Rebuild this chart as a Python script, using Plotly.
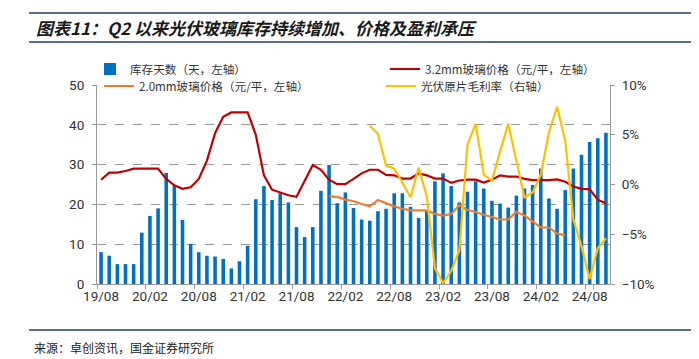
import plotly.graph_objects as go

# categories: monthly 2019/08 .. 2024/10
months = []
yy, mm = 2019, 8
while len(months) < 63:
    months.append(f"{yy % 100:02d}/{mm:02d}")
    mm += 1
    if mm > 12:
        mm = 1
        yy += 1

inventory_days = [
    8.0, 7.1, 5.0, 5.0, 5.0, 12.9, 17.1, 19.0, 27.9, 24.7,
    16.1, 10.1, 8.0, 7.1, 6.9, 6.3, 3.9, 5.7, 9.6, 21.3,
    24.6, 21.1, 22.8, 20.5, 14.3, 11.8, 14.3, 23.4, 29.9, 20.3,
    23.0, 19.1, 16.2, 15.9, 18.3, 18.9, 22.8, 22.8, 19.4, 16.6,
    18.5, 25.8, 27.8, 24.6, 20.5, 23.2, 25.8, 24.0, 20.9, 20.2,
    19.2, 22.2, 24.0, 24.9, 29.0, 21.5, 18.9, 23.6, 29.0, 32.5,
    35.7, 36.6, 38.0,
]

price_32 = [
    26.2, 28.0, 28.0, 28.4, 29.0, 29.0, 29.0, 29.0, 26.4, 24.8,
    23.9, 24.3, 26.4, 31.0, 37.9, 42.0, 43.1, 43.1, 43.1, 37.5,
    27.3, 23.7, 22.9, 22.3, 21.9, 25.8, 29.9, 28.7, 26.2, 25.1,
    25.1, 26.4, 27.8, 28.7, 28.7, 27.4, 27.3, 26.5, 26.5, 27.8,
    27.3, 26.5, 26.5, 25.4, 26.0, 26.2, 26.2, 25.5, 26.2, 27.3,
    27.0, 27.0, 26.4, 26.1, 26.1, 26.1, 26.3, 25.7, 24.5, 23.9,
    23.8, 21.2, 20.2,
]

price_20 = [None] * 28 + [
    22.0, 21.9, 21.2, 20.8, 20.1, 19.5, 21.1, 20.3, 19.5, 18.9,
    18.5, 18.5, 18.5, 17.6, 17.2, 17.6, 19.8, 18.6, 18.1, 17.4,
    16.8, 16.2, 16.2, 18.1, 17.2, 15.6, 14.2, 14.2, 12.7, 12.2,
] + [None] * 5

wafer_margin = [None] * 33 + [
    5.9, 5.1, 1.9, 1.6, 0.2, -1.3, 1.7, -1.2, -8.4, -9.9,
    -8.7, -6.6, 4.0, 6.1, 1.0, 0.4, 3.3, 6.1, 2.4, -1.3,
    -0.8, 1.0, 5.2, 7.8, 4.4, -3.5, -6.2, -9.5, -6.4, -5.4,
]

tick_labels = [months[i] for i in range(0, 63, 6)]

TXT = "#333333"
CJK = "Noto Sans CJK SC"

fig = go.Figure()
fig.add_trace(go.Bar(x=months, y=inventory_days, name="库存天数（天，左轴）",
                     marker=dict(color="#0070C0", line=dict(width=0)), legend="legend"))
fig.add_trace(go.Scatter(x=months, y=price_32, name="3.2mm玻璃价格（元/平，左轴）",
                         mode="lines", line=dict(color="#C00000", width=2.2), legend="legend2"))
fig.add_trace(go.Scatter(x=months, y=price_20, name="2.0mm玻璃价格（元/平，左轴）",
                         mode="lines", line=dict(color="#ED7D31", width=2.2), legend="legend3"))
fig.add_trace(go.Scatter(x=months, y=wafer_margin, name="光伏原片毛利率（右轴）",
                         mode="lines", line=dict(color="#FFC000", width=2.2), yaxis="y2",
                         legend="legend4"))

# page body has an 8px margin; work in window pixels and convert
OFF = 8
W, H = 699 - OFF, 359 - OFF
L, R, T, B = 97 - OFF, 699 - 610, 85 - OFF, 359 - 284
pw, ph = W - L - R, H - T - B

def px_x(px):
    return (px - OFF - L) / pw

def px_y(py):
    return (H - B - (py - OFF)) / ph

def leg(x, y):
    return dict(orientation="v", xanchor="left", yanchor="middle", itemwidth=30,
                x=px_x(x), y=px_y(y),
                font=dict(family=CJK, size=11.6, color=TXT),
                bgcolor="rgba(255,255,255,0)", tracegroupgap=0)

fig.update_layout(
    width=W, height=H,
    margin=dict(l=L, r=R, t=T, b=B, pad=0, autoexpand=False),
    paper_bgcolor="white", plot_bgcolor="white",
    bargap=0.56,
    font=dict(family=CJK, size=12, color=TXT),
    showlegend=True,
    legend=leg(90, 69),
    legend2=leg(385, 69),
    legend3=leg(99, 86),
    legend4=leg(381, 86),
    xaxis=dict(type="category", tickmode="array", tickvals=tick_labels, ticktext=tick_labels,
               tickson="boundaries", ticks="outside", ticklen=4, tickcolor="#999999",
               tickangle=0, automargin=False,
               showline=True, linecolor="#999999", linewidth=1, showgrid=False,
               tickfont=dict(family="Liberation Sans Narrow, Roboto", size=13.5, color=TXT),
               range=[-0.5, 62.5]),
    yaxis=dict(range=[0, 50], dtick=10, ticks="outside", ticklen=4, tickcolor="#999999",
               ticklabelstandoff=5,
               showline=True, linecolor="#999999", linewidth=1, automargin=False,
               showgrid=True, gridcolor="#9a9a9a", griddash="dash", gridwidth=1,
               zeroline=False,
               tickfont=dict(family="Roboto", size=13.5, color=TXT)),
    yaxis2=dict(range=[-10, 10], dtick=5, ticksuffix="%", overlaying="y", side="right",
                ticks="outside", ticklen=4, tickcolor="#999999", automargin=False,
                ticklabelstandoff=4,
                showline=True, linecolor="#999999", linewidth=1,
                showgrid=False, zeroline=False,
                tickfont=dict(family="Roboto", size=13.5, color=TXT)),
)

navy = "#1F3F66"
for py in (13, 42, 330):
    fig.add_shape(type="line", xref="paper", yref="paper", x0=px_x(29), x1=px_x(699),
                  y0=px_y(py), y1=px_y(py), line=dict(color=navy, width=1.5))

fig.add_annotation(xref="paper", yref="paper", x=px_x(34), y=px_y(28), xanchor="left",
                   yanchor="middle", showarrow=False,
                   text="<b><i>图表11：Q2 以来光伏玻璃库存持续增加、价格及盈利承压</i></b>",
                   font=dict(family=CJK, size=17, color="#1a1a1a"))
fig.add_annotation(xref="paper", yref="paper", x=px_x(32), y=px_y(347), xanchor="left",
                   yanchor="middle", showarrow=False,
                   text="来源：卓创资讯，国金证券研究所",
                   font=dict(family=CJK, size=12, color="#222222"))

fig.write_html("out.html")
